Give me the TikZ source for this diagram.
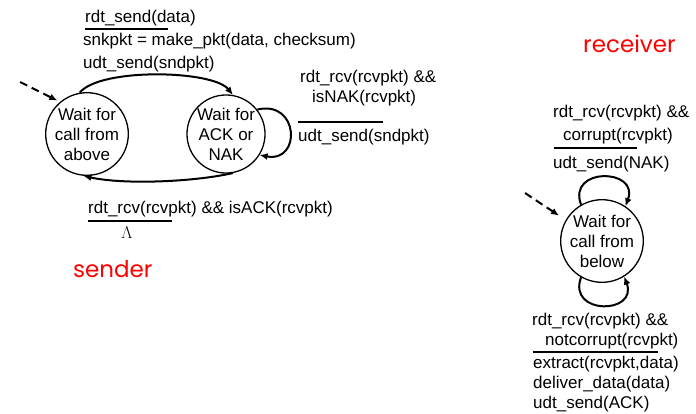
\documentclass[tikz,border=0pt]{standalone}
\usepackage{fontspec}
\setmainfont{Liberation Sans}
\newfontfamily\comicfont{Poppins}
\usepackage{tikz}
\usetikzlibrary{arrows.meta}

\begin{document}
\begin{tikzpicture}[x=1pt,y=1pt]
\tikzstyle{every node}+=[inner sep=0pt]
\tikzstyle{lbl}=[anchor=base west,font=\fontsize{17}{20}\selectfont]
\tikzstyle{fsmstate}=[draw,circle,line width=1.3pt,minimum size=77pt,align=center,font=\fontsize{17}{20}\selectfont]
\tikzstyle{trans}=[line width=2pt,-{Latex[length=8pt,width=7pt]}]
\tikzstyle{initarrow}=[line width=2pt,dash pattern=on 8pt off 5pt,-{Latex[length=8pt,width=7pt]}]
\tikzstyle{bar}=[line width=2pt]
\tikzstyle{fsmtitle}=[anchor=base west,text=red,font=\comicfont\fontsize{23}{26}\selectfont]
\useasboundingbox (0,0) rectangle (696,-413);
% sender
\draw (87,-134) node [fsmstate] (s1) {Wait for\\call from\\above};
\draw (226,-134) node [fsmstate] (s2) {Wait for\\ACK or\\NAK};
\coordinate (i1) at (20,-82);
\draw [initarrow,shorten >=3pt] (i1) -- (s1.130);
\draw [trans] (s1.100) .. controls +(20,25) and +(-20,25) .. (s2.80);
\draw [trans] (s2.-80) .. controls +(-40,-9) and +(40,-9) .. (s1.-95);
\draw [trans] (s2.38) .. controls +(42,10) and +(42,-8) .. (s2.-32);
\draw (85,-22) node [lbl] (t1) {rdt\_send(data)};
\draw [bar] (85,-29) -- (168,-29);
\draw (83,-45) node [lbl] (t2) {snkpkt = make\_pkt(data, checksum)};
\draw (83,-68) node [lbl] (t3) {udt\_send(sndpkt)};
\draw (300,-82) node [lbl] (n1) {rdt\_rcv(rcvpkt) \&\&};
\draw (312,-102) node [lbl] (n2) {isNAK(rcvpkt)};
\draw [bar] (298,-122) -- (383,-122);
\draw (298,-141) node [lbl] (n3) {udt\_send(sndpkt)};
\draw (88,-213) node [lbl] (a1) {rdt\_rcv(rcvpkt) \&\& isACK(rcvpkt)};
\draw [bar] (88,-221) -- (172,-221);
\draw (127,-238) node [anchor=base,font=\fontsize{17}{20}\selectfont] (lam) {$\Lambda$};
\draw (73,-277) node [fsmtitle] (snd) {sender};
% receiver
\draw (583,-52) node [fsmtitle] (rcv) {receiver};
\draw (602,-241) node [fsmstate] (s3) {Wait for\\call from\\below};
\coordinate (i2) at (525,-193);
\draw [initarrow,shorten >=8pt] (i2) -- (s3.150);
\draw [trans] (s3.120) .. controls +(-14,38) and +(14,38) .. (s3.56);
\draw [trans] (s3.-120) .. controls +(-14,-38) and +(14,-38) .. (s3.-58);
\draw (553,-117) node [lbl] (c1) {rdt\_rcv(rcvpkt) \&\&};
\draw (563,-140) node [lbl] (c2) {corrupt(rcvpkt)};
\draw [bar] (554,-148) -- (637,-148);
\draw (553,-168) node [lbl] (c3) {udt\_send(NAK)};
\draw (532,-325) node [lbl] (d1) {rdt\_rcv(rcvpkt) \&\&};
\draw (545,-345) node [lbl] (d2) {notcorrupt(rcvpkt)};
\draw [bar] (533,-352) -- (658,-352);
\draw (533,-368) node [lbl] (d3) {extract(rcvpkt,data)};
\draw (533,-388) node [lbl] (d4) {deliver\_data(data)};
\draw (533,-408) node [lbl] (d5) {udt\_send(ACK)};
\end{tikzpicture}
\end{document}
